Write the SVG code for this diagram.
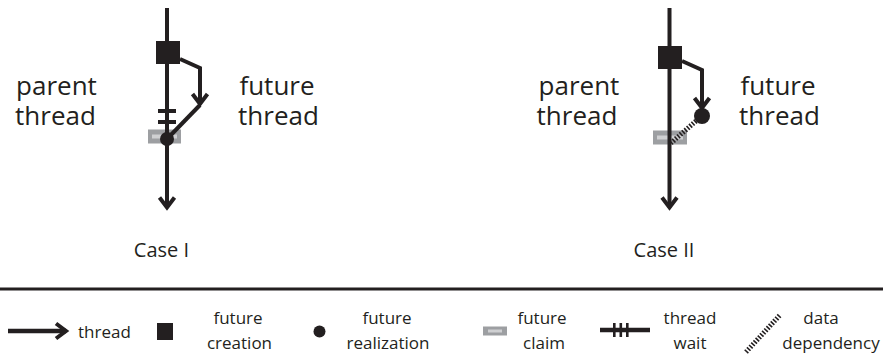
<svg xmlns="http://www.w3.org/2000/svg" width="883" height="356" viewBox="0 0 883 356">
  <style>
    .ink { fill: #231f20; }
    .thread { fill: none; stroke: #231f20; stroke-width: 4; stroke-linejoin: miter; marker-end: url(#chev); }
    .plain { fill: none; stroke: #231f20; stroke-width: 4; stroke-linejoin: miter; }
    .dep { fill: none; stroke: #231f20; stroke-width: 5; stroke-dasharray: 1.6 1.6; }
    .claim { fill: #9d9fa2; }
    .claim-stripe { fill: #cfd0d2; }
    text { font-family: "Open Sans", "Noto Sans", "Liberation Sans", sans-serif; fill: #231f20; }
    .big { font-size: 26px; }
    .cap { font-size: 20px; text-anchor: middle; }
    .leg { font-size: 17px; }
    .mid { text-anchor: middle; }
  </style>
  <defs>
    <!-- open chevron head used on every thread line -->
    <marker id="chev" viewBox="-14 -11 18 22" refX="0" refY="0" markerWidth="18" markerHeight="22" markerUnits="userSpaceOnUse" orient="auto" overflow="visible">
      <path d="M-10,-7.5 L0,0 L-10,7.5" fill="none" stroke="#231f20" stroke-width="4" stroke-linejoin="miter"/>
    </marker>
  </defs>

  <!-- ===== Case I ===== -->
  <g id="c1-claim">
    <rect class="claim" x="148" y="129.5" width="33" height="14"/>
    <rect class="claim-stripe" x="152" y="134.5" width="25" height="4"/>
  </g>
  <!-- ===== Case II ===== -->
  <g id="c2-claim">
    <rect class="claim" x="653" y="130.5" width="34" height="14"/>
    <rect class="claim-stripe" x="657" y="135.5" width="26" height="4"/>
  </g>

  <g id="connectors">
    <!-- Case I -->
    <path id="c1-parent-thread" class="thread" d="M167,8 V207.5"/>
    <path id="c1-future-thread" class="thread" d="M180,59 L200,68 V104"/>
    <path id="c1-future-join" class="plain" d="M200,105 L167,139"/>
    <!-- Case II -->
    <path id="c2-parent-thread" class="thread" d="M669.5,8 V207.5"/>
    <path id="c2-future-thread" class="thread" d="M682,61 L702,70 V108"/>
    <path id="c2-dependency" class="dep" d="M696,121 L671,143"/>
  </g>

  <g id="c1-creation"><rect class="ink" x="156" y="41" width="24" height="23"/></g>
  <g id="c1-wait">
    <rect class="ink" x="158" y="109" width="18" height="4"/>
    <rect class="ink" x="158" y="120" width="18" height="4"/>
  </g>
  <g id="c1-realization"><circle class="ink" cx="167" cy="139" r="7"/></g>

  <g id="c2-creation"><rect class="ink" x="658" y="46" width="24" height="23"/></g>
  <g id="c2-realization"><circle class="ink" cx="702" cy="116" r="8"/></g>

  <g id="c1-labels">
    <text class="big mid" x="56.5" y="95">parent</text>
    <text class="big mid" x="55.5" y="125">thread</text>
    <text class="big mid" x="277" y="95">future</text>
    <text class="big mid" x="278.5" y="125">thread</text>
    <text class="cap" x="161.5" y="256.5">Case I</text>
  </g>
  <g id="c2-labels">
    <text class="big mid" x="579" y="95">parent</text>
    <text class="big mid" x="577" y="125">thread</text>
    <text class="big mid" x="778" y="95">future</text>
    <text class="big mid" x="779.5" y="125">thread</text>
    <text class="cap" x="664" y="256.5">Case II</text>
  </g>

  <!-- ===== Legend ===== -->
  <line id="legend-rule" x1="0" y1="289" x2="883" y2="289" stroke="#231f20" stroke-width="3"/>
  <g id="legend">
    <g id="key-thread">
      <path class="thread" d="M8,331 H66" style="stroke-width:4.5"/>
      <text class="leg" x="78" y="338">thread</text>
    </g>
    <g id="key-creation">
      <rect class="ink" x="157" y="323" width="16" height="17"/>
      <text class="leg mid" x="238" y="324">future</text>
      <text class="leg mid" x="239.5" y="349">creation</text>
    </g>
    <g id="key-realization">
      <circle class="ink" cx="319.5" cy="331.5" r="6"/>
      <text class="leg mid" x="387" y="324">future</text>
      <text class="leg mid" x="388" y="349">realization</text>
    </g>
    <g id="key-claim">
      <rect class="claim" x="483" y="326.5" width="24" height="9"/>
      <rect class="claim-stripe" x="488" y="329.5" width="14" height="3"/>
      <text class="leg mid" x="542" y="324">future</text>
      <text class="leg mid" x="544" y="349">claim</text>
    </g>
    <g id="key-wait">
      <line x1="600" y1="330" x2="650" y2="330" stroke="#231f20" stroke-width="4.5"/>
      <rect class="ink" x="613" y="323" width="2.6" height="14"/>
      <rect class="ink" x="619.5" y="323" width="2.6" height="14"/>
      <rect class="ink" x="626" y="323" width="2.6" height="14"/>
      <text class="leg mid" x="690" y="324">thread</text>
      <text class="leg mid" x="690" y="349">wait</text>
    </g>
    <g id="key-dependency">
      <path class="dep" d="M746,352 L780,315"/>
      <text class="leg mid" x="821" y="324">data</text>
      <text class="leg mid" x="831" y="349">dependency</text>
    </g>
  </g>
</svg>
